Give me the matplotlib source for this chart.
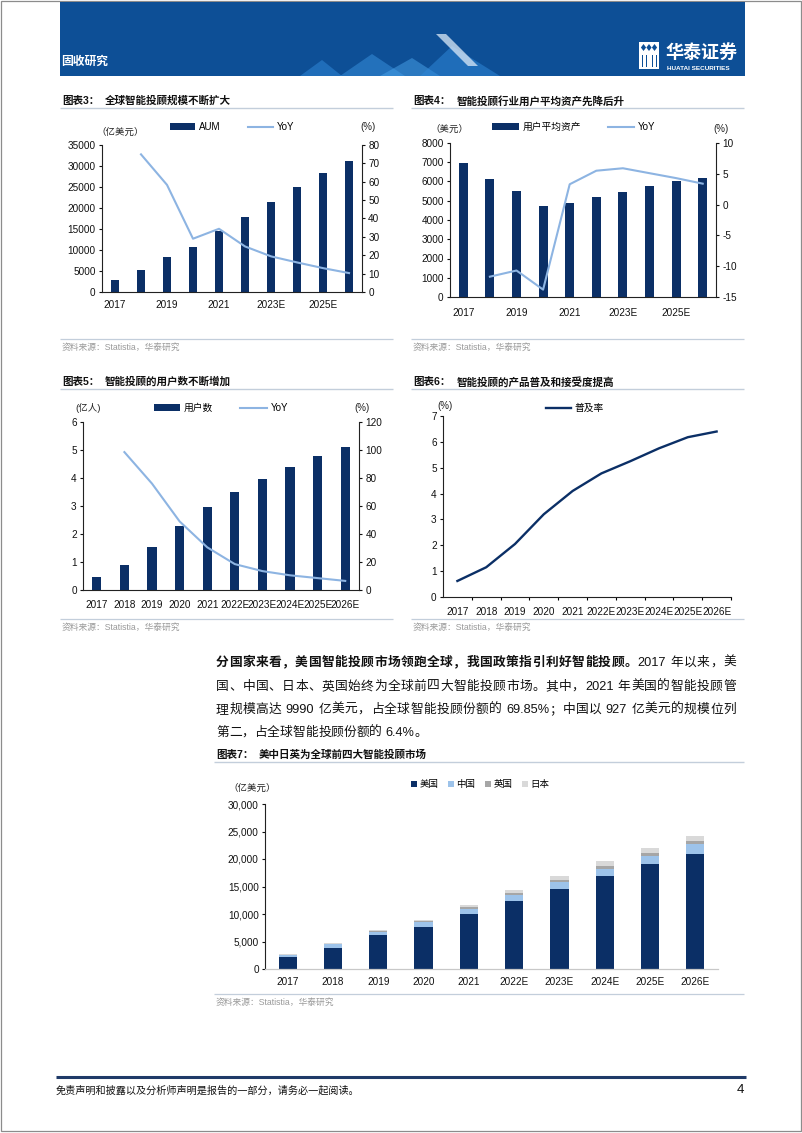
import re
import numpy as np
import matplotlib
matplotlib.use('Agg')
import matplotlib.pyplot as plt
from matplotlib.patches import Rectangle, Polygon
from matplotlib.lines import Line2D
from matplotlib.ticker import FuncFormatter

plt.rcParams['font.family'] = ['Liberation Sans', 'Noto Sans CJK SC']
plt.rcParams['axes.unicode_minus'] = False

W, H = 802, 1133

# ---------------- data ----------------
years_all = ['2017', '2018', '2019', '2020', '2021', '2022E', '2023E', '2024E', '2025E', '2026E']
years_sparse = ['2017', '2019', '2021', '2023E', '2025E']

# 图表3 全球智能投顾规模 (亿美元) & YoY (%)
aum = [2930, 5300, 8230, 10610, 14410, 17810, 21540, 24940, 28270, 31280]
aum_yoy = [74.9, 58.3, 29.0, 34.4, 24.8, 19.4, 16.1, 13.0, 10.3]

# 图表4 用户平均资产 (美元) & YoY (%)
avg_asset = [6980, 6150, 5490, 4745, 4900, 5180, 5470, 5750, 6010, 6200]
avg_yoy = [-11.7, -10.7, -13.8, 3.3, 5.5, 5.9, 5.1, 4.3, 3.4]

# 图表5 用户数 (亿人) & YoY (%)
users = [0.45, 0.88, 1.53, 2.28, 2.97, 3.50, 3.98, 4.39, 4.79, 5.12]
users_yoy = [98.5, 76.0, 49.0, 30.5, 18.5, 13.5, 10.5, 8.5, 6.5]

# 图表6 普及率 (%)
penetration = [0.62, 1.15, 2.05, 3.20, 4.10, 4.78, 5.25, 5.75, 6.18, 6.40]

# 图表7 各国规模 (亿美元)
us = [2250, 3900, 6100, 7700, 9990, 12300, 14600, 16900, 19100, 21000]
china = [300, 600, 700, 850, 927, 1150, 1300, 1300, 1500, 1700]
uk = [60, 80, 120, 150, 330, 300, 350, 500, 500, 600]
japan = [40, 60, 100, 200, 350, 600, 750, 900, 950, 900]
country_names = ['美国', '中国', '英国', '日本']

NAVY = '#0b2f66'
LIGHT = '#8db4e2'
SRC_C = '#9a9a9a'
RULE_C = '#c3cedb'

fig = plt.figure(figsize=(W / 100, H / 100), dpi=100)
fig.patch.set_facecolor('white')


def P(x, y):
    return (x / W, 1 - y / H)


def rect(l, t, r, b):
    return [l / W, 1 - b / H, (r - l) / W, (b - t) / H]


def ftext(x, y, s, **kw):
    kw.setdefault('va', 'center')
    kw.setdefault('ha', 'left')
    return fig.text(x / W, 1 - y / H, s, **kw)


def hline(x0, x1, y, color, lw):
    fig.add_artist(Line2D([x0 / W, x1 / W], [1 - y / H, 1 - y / H], color=color,
                          lw=lw, transform=fig.transFigure, solid_capstyle='butt'))


def poly(pts, **kw):
    fig.add_artist(Polygon([P(x, y) for x, y in pts], closed=True,
                           transform=fig.transFigure, **kw))


# ---------------- page frame & header ----------------
fig.add_artist(Rectangle(P(0.5, 1131), 800.5 / W, 1130 / H, transform=fig.transFigure,
                         fill=False, ec='#8c8c8c', lw=0.9))
fig.add_artist(Rectangle(P(60, 76), 685 / W, 74 / H, transform=fig.transFigure,
                         fc='#0d4f96', ec='none'))
# decorative wedges
poly([(300, 76), (322, 60), (342, 76)], fc='#2f86d6', alpha=0.55, ec='none')
poly([(340, 76), (372, 54), (405, 76)], fc='#3a94e0', alpha=0.5, ec='none')
poly([(380, 76), (412, 58), (440, 76)], fc='#4aa3ea', alpha=0.5, ec='none')
poly([(420, 76), (452, 46), (500, 76)], fc='#2f86d6', alpha=0.55, ec='none')
poly([(436, 34), (446, 34), (478, 66), (468, 66)], fc='#dbe9f7', alpha=0.75, ec='none')
ftext(61, 62, '固收研究', color='white', fontsize=8.5, weight='bold')
# logo
fig.add_artist(Rectangle(P(639, 69), 20 / W, 27 / H, transform=fig.transFigure,
                         fc='white', ec='none'))
for cx in (643.5, 649, 654.5):
    poly([(cx, 44), (cx + 2.6, 47.5), (cx, 51), (cx - 2.6, 47.5)], fc='#0d4f96', ec='none')
for vx in (642, 646, 652, 656):
    fig.add_artist(Rectangle(P(vx, 67), 1.3 / W, 12 / H, transform=fig.transFigure,
                             fc='#0d4f96', ec='none'))
ftext(666, 53, '华泰证券', color='white', fontsize=13, weight='bold')
ftext(667, 68, 'HUATAI SECURITIES', color='white', fontsize=4.6, weight='bold')


# ---------------- helpers for charts ----------------
def chart_title(x_label, x_text, y, num, text, x_end):
    ftext(x_label, y, f'图表{num}：', fontsize=7.6, weight='bold', color='#111111')
    ftext(x_text, y, text, fontsize=7.6, weight='bold', color='#111111')
    hline(x_label - 2, x_end, y + 7, RULE_C, 1.0)


def source(x, y, x_end):
    hline(x - 2, x_end, y - 8, RULE_C, 0.9)
    ftext(x, y, '资料来源：Statistia，华泰研究', fontsize=6.3, color=SRC_C)


def style_dual(ax, ax2):
    for a in (ax, ax2):
        a.spines['top'].set_visible(False)
        for s in a.spines.values():
            s.set_linewidth(0.8)
            s.set_color('#222222')
        a.set_facecolor('none')
    ax.spines['right'].set_visible(False)
    ax2.spines['left'].set_visible(False)
    ax2.spines['bottom'].set_visible(False)
    ax.tick_params(axis='x', length=0, labelsize=7.2, pad=6, colors='#111111')
    ax.tick_params(axis='y', direction='out', length=2.5, width=0.8, labelsize=7.2, pad=2,
                   colors='#111111')
    ax2.tick_params(axis='y', direction='out', length=2.5, width=0.8, labelsize=7.2, pad=2,
                    colors='#111111')


def legend_at(ax, handles, labels, cx, cy, **kw):
    opts = dict(loc='center', bbox_to_anchor=P(cx, cy), bbox_transform=fig.transFigure,
                frameon=False, fontsize=7, borderpad=0, borderaxespad=0,
                handletextpad=0.4)
    opts.update(kw)
    return ax.legend(handles, labels, **opts)


x = np.arange(10)

# ---------------- 图表3 ----------------
chart_title(62, 105, 101, 3, '全球智能投顾规模不断扩大', 393)
ax = fig.add_axes(rect(102, 145, 362, 292))
bars = ax.bar(x, aum, width=0.33, color=NAVY)
ax.set_xlim(-0.5, 9.5)
ax.set_ylim(0, 35000)
ax.set_yticks(np.arange(0, 35001, 5000))
ax.set_xticks(x[::2])
ax.set_xticklabels(years_sparse)
ax2 = ax.twinx()
ln, = ax2.plot(x[1:], aum_yoy, color=LIGHT, lw=1.5)
ax2.set_ylim(0, 80)
ax2.set_yticks(np.arange(0, 81, 10))
style_dual(ax, ax2)
legend_at(ax, [bars, ln], ['AUM', 'YoY'], 232, 127, ncol=2, handlelength=2.6,
          handleheight=0.75, columnspacing=2.8)
ftext(96, 132, '（亿美元）', fontsize=6.8, color='#222222')
ftext(368, 127, '(%)', fontsize=7, ha='center', color='#222222')
source(62, 347, 393)

# ---------------- 图表4 ----------------
chart_title(413, 457, 101, 4, '智能投顾行业用户平均资产先降后升', 744)
ax = fig.add_axes(rect(450, 143, 716, 297))
bars = ax.bar(x, avg_asset, width=0.34, color=NAVY)
ax.set_xlim(-0.5, 9.5)
ax.set_ylim(0, 8000)
ax.set_yticks(np.arange(0, 8001, 1000))
ax.set_xticks(x[::2])
ax.set_xticklabels(years_sparse)
ax2 = ax.twinx()
ln, = ax2.plot(x[1:], avg_yoy, color=LIGHT, lw=1.5)
ax2.set_ylim(-15, 10)
ax2.set_yticks(np.arange(-15, 11, 5))
style_dual(ax, ax2)
ax.tick_params(axis='x', pad=8)
legend_at(ax, [bars, ln], ['用户平均资产', 'YoY'], 574, 127, ncol=2, handlelength=2.7,
          handleheight=0.75, columnspacing=2.8)
ftext(430, 129, '（美元）', fontsize=6.8, color='#222222')
ftext(721, 129, '(%)', fontsize=7, ha='center', color='#222222')
source(413, 347, 744)

# ---------------- 图表5 ----------------
chart_title(62, 105, 382, 5, '智能投顾的用户数不断增加', 393)
ax = fig.add_axes(rect(83, 422, 359, 590))
bars = ax.bar(x, users, width=0.33, color=NAVY)
ax.set_xlim(-0.5, 9.5)
ax.set_ylim(0, 6)
ax.set_yticks(np.arange(0, 7, 1))
ax.set_xticks(x)
ax.set_xticklabels(years_all)
ax2 = ax.twinx()
ln, = ax2.plot(x[1:], users_yoy, color=LIGHT, lw=1.5)
ax2.set_ylim(0, 120)
ax2.set_yticks(np.arange(0, 121, 20))
style_dual(ax, ax2)
ax.tick_params(axis='x', pad=7)
legend_at(ax, [bars, ln], ['用户数', 'YoY'], 221, 408, ncol=2, handlelength=2.7,
          handleheight=0.75, columnspacing=2.8)
ftext(75, 408, '(亿人)', fontsize=6.8, color='#222222')
ftext(362, 408, '(%)', fontsize=7, ha='center', color='#222222')
source(62, 627, 393)

# ---------------- 图表6 ----------------
chart_title(413, 457, 382, 6, '智能投顾的产品普及和接受度提高', 744)
ax = fig.add_axes(rect(443, 416, 731, 597))
ln, = ax.plot(x, penetration, color=NAVY, lw=1.7, solid_joinstyle='round')
ax.set_xlim(-0.5, 9.5)
ax.set_ylim(0, 7)
ax.set_yticks(np.arange(0, 8, 1))
ax.set_xticks(x)
ax.set_xticklabels(years_all)
ax.set_xticks(np.arange(0.5, 9.6, 1), minor=True)
for s in ('top', 'right'):
    ax.spines[s].set_visible(False)
for s in ('left', 'bottom'):
    ax.spines[s].set_linewidth(0.8)
    ax.spines[s].set_color('#222222')
ax.tick_params(axis='x', which='major', length=0, labelsize=7.2, pad=7, colors='#111111')
ax.tick_params(axis='x', which='minor', direction='out', length=2.5, width=0.8)
ax.tick_params(axis='y', direction='out', length=2.5, width=0.8, labelsize=7.2, pad=2,
               colors='#111111')
legend_at(ax, [ln], ['普及率'], 575, 408, handlelength=2.6)
ftext(445, 406, '(%)', fontsize=7, ha='center', color='#222222')
source(413, 627, 744)

# ---------------- paragraph ----------------
renderer = fig.canvas.get_renderer()
PARA_FS = 9.2
EM = PARA_FS * 100 / 72


def is_cjk(ch):
    return ord(ch) > 0x2E80


def tok_width(t, bold):
    if t == ' ':
        return 0.28 * EM
    if is_cjk(t[0]):
        return EM
    tt = fig.text(0, 0, t, fontsize=PARA_FS, weight='bold' if bold else 'normal')
    w = tt.get_window_extent(renderer).width
    tt.remove()
    return w


def para_line(segs, y, x0=216, x1=736, justify=True):
    toks = []
    for s, bold in segs:
        for m in re.finditer(r'[A-Za-z0-9.%]+| |.', s):
            toks.append((m.group(), bold))
    ws = [tok_width(t, b) for t, b in toks]
    gap = (x1 - x0 - sum(ws)) / (len(toks) - 1) if justify else 0.0
    xx = x0
    for (t, b), w in zip(toks, ws):
        if t != ' ':
            ftext(xx, y, t, fontsize=PARA_FS, weight='bold' if b else 'normal',
                  color='#111111')
        xx += w + gap


para_line([('分国家来看，美国智能投顾市场领跑全球，我国政策指引利好智能投顾。', True),
           ('2017 年以来，美', False)], 663)
para_line([('国、中国、日本、英国始终为全球前四大智能投顾市场。其中，2021 年美国的智能投顾管', False)], 687)
para_line([('理规模高达 9990 亿美元，占全球智能投顾份额的 69.85%；中国以 927 亿美元的规模位列', False)], 710)
para_line([('第二，占全球智能投顾份额的 6.4%。', False)], 733, justify=False)

# ---------------- 图表7 ----------------
chart_title(216, 259, 755, 7, '美中日英为全球前四大智能投顾市场', 744)
ax = fig.add_axes(rect(265, 804, 718, 969))
stack_colors = [NAVY, '#9dc3ea', '#a6a6a6', '#d9d9d9']
bottom = np.zeros(10)
handles = []
for vals, col in zip([us, china, uk, japan], stack_colors):
    h = ax.bar(x, vals, width=0.4, bottom=bottom, color=col)
    handles.append(h)
    bottom = bottom + np.array(vals)
ax.set_xlim(-0.5, 9.5)
ax.set_ylim(0, 30000)
ax.set_yticks(np.arange(0, 30001, 5000))
ax.yaxis.set_major_formatter(FuncFormatter(lambda v, p: f'{int(v):,}'))
ax.set_xticks(x)
ax.set_xticklabels(years_all)
for s in ('top', 'right'):
    ax.spines[s].set_visible(False)
ax.spines['left'].set_color('#222222')
ax.spines['left'].set_linewidth(0.8)
ax.spines['bottom'].set_color('#c8c8c8')
ax.spines['bottom'].set_linewidth(0.9)
ax.tick_params(axis='x', length=0, labelsize=7.2, pad=6, colors='#111111')
ax.tick_params(axis='y', direction='out', length=2.5, width=0.8, labelsize=7.2, pad=2,
               colors='#111111')
legend_at(ax, handles, country_names, 480, 785, ncol=4, handlelength=0.65,
          handleheight=0.65, handletextpad=0.25, columnspacing=1.0, fontsize=6.8)
ftext(228, 788, '（亿美元）', fontsize=6.8, color='#222222')
source(216, 1002, 744)

# ---------------- footer ----------------
hline(56, 746, 1077, '#1f3a68', 2.2)
ftext(56, 1090, '免责声明和披露以及分析师声明是报告的一部分，请务必一起阅读。',
      fontsize=7.3, color='#111111')
ftext(744, 1090, '4', fontsize=9.5, ha='right', color='#111111')

fig.savefig('out.png', dpi=100, facecolor='white')
